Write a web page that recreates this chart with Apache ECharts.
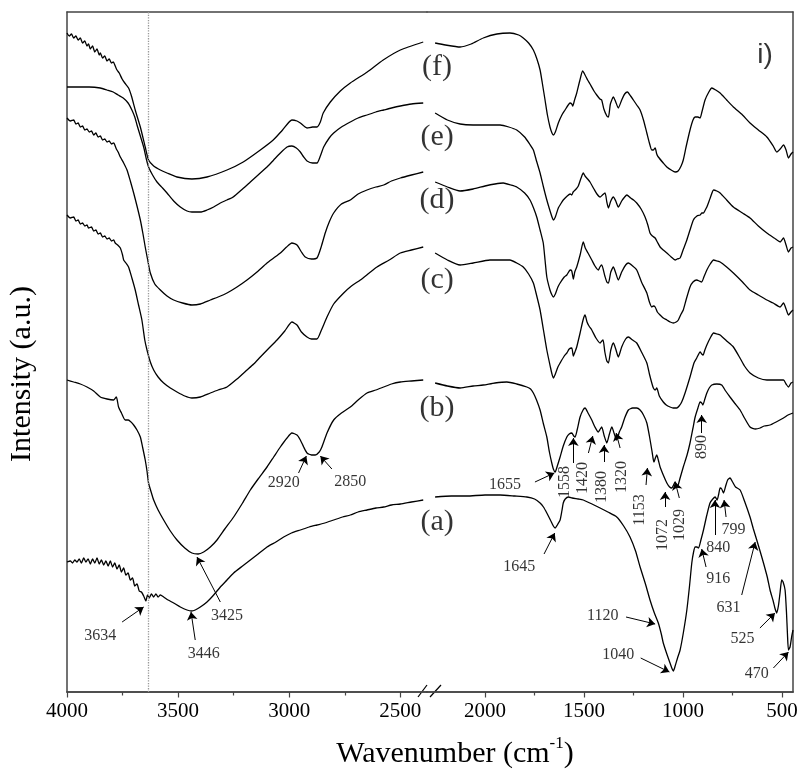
<!DOCTYPE html>
<html>
<head>
<meta charset="utf-8">
<script src="https://cdn.jsdelivr.net/npm/echarts@6/dist/echarts.min.js"></script>
<style>
  html, body { margin: 0; padding: 0; background: #fff; }
  #chart { width: 803px; height: 776px; }
</style>
</head>
<body>
<div id="chart"></div>
<script>
// FTIR spectra, [wavenumber cm-1, intensity a.u.]
const specA = [
  [4000,130],[3985,131],[3975,129],[3965,132],[3955,130],[3945,133],[3935,129],[3925,134],[3915,130],[3905,133],
  [3895,128],[3885,133],[3875,129],[3865,134],[3855,128],[3845,132],[3835,127],[3825,131],[3815,126],[3805,131],
  [3795,125],[3785,129],[3775,123],[3765,127],[3755,120],[3745,124],[3735,117],[3725,119],[3715,112],[3705,114],
  [3695,106],[3685,108],[3675,101],[3665,100],[3655,96],[3645,91],[3638,97],[3630,94],[3620,98],[3610,95],
  [3600,98],[3590,95],[3580,97],[3565,95],[3545,92],[3520,89],[3490,85],[3460,82],[3440,81],[3423,82],
  [3400,85],[3370,90],[3340,97],[3310,105],[3280,112],[3250,119],[3210,126],[3175,132],[3140,138],[3100,145],
  [3060,150],[3025,155],[2990,159],[2950,162],[2910,165],[2875,167],[2840,169],[2800,172],[2760,175],[2725,177],
  [2690,180],[2650,182],[2610,184],[2575,185],[2540,187],[2500,188],[2450,190],[2397,192],
  [2252,195],[2170,196],[2092,196],[2000,197],[1924,197],[1850,196],[1789,195],[1750,193],[1722,189],[1705,185],
  [1688,179],[1670,172],[1655,166],[1646,164],[1635,167],[1621,172],[1612,181],[1605,189],[1595,193],[1579,195],
  [1560,194],[1530,193],[1504,192],[1460,188],[1419,184],[1380,180],[1335,175],[1300,166],[1268,155],[1240,141],
  [1217,125],[1190,108],[1167,92],[1145,79],[1125,69],[1110,58],[1100,49],[1082,38],[1066,29],[1055,23],
  [1049,21],[1040,26],[1028,34],[1015,42],[998,60],[981,82],[968,105],[956,129],[947,140],[939,145],
  [930,145],[922,144],[910,152],[897,162],[880,177],[864,189],[850,193],[838,195],[828,192],[820,198],
  [813,204],[805,203],[796,199],[785,206],[775,212],[763,214],[750,210],[735,205],[712,202],[690,191],
  [662,175],[645,163],[628,152],[610,140],[594,129],[575,115],[561,102],[545,91],[535,83],[527,79],
  [518,87],[510,100],[502,112],[495,110],[485,102],[478,80],[473,58],[468,42],[460,45],[452,55],[445,62]
];
const specB = [
  [4000,312],[3970,310],[3940,308],[3910,305],[3880,301],[3850,295],[3820,293],[3790,292],[3778,295],[3768,285],
  [3755,279],[3738,272],[3724,272],[3712,270],[3700,267],[3685,262],[3670,255],[3660,245],[3648,232],[3640,221],
  [3633,209],[3620,199],[3610,192],[3590,182],[3565,172],[3535,161],[3505,152],[3470,144],[3438,139],[3410,138],
  [3385,140],[3355,145],[3325,152],[3290,163],[3250,175],[3210,189],[3175,202],[3140,213],[3100,225],[3070,235],
  [3040,245],[3010,254],[2988,259],[2965,257],[2950,252],[2935,245],[2920,239],[2900,237],[2883,237],[2865,240],
  [2853,245],[2830,259],[2800,272],[2765,279],[2725,285],[2690,292],[2650,299],[2610,302],[2575,305],[2540,308],
  [2500,310],[2450,311],[2397,312],
  [2252,309],[2190,306],[2126,304],[2060,306],[2009,307],[1950,309],[1890,310],[1840,308],[1789,305],[1770,303],
  [1756,299],[1740,292],[1722,282],[1705,268],[1688,255],[1675,240],[1663,229],[1655,223],[1646,220],[1635,226],
  [1621,235],[1605,246],[1587,255],[1575,258],[1562,259],[1552,256],[1545,255],[1535,262],[1520,275],[1505,282],
  [1495,284],[1480,279],[1461,272],[1445,265],[1428,260],[1418,263],[1411,265],[1398,256],[1385,249],[1372,258],
  [1360,265],[1347,258],[1335,252],[1322,260],[1310,265],[1295,274],[1276,282],[1255,284],[1234,284],[1217,282],
  [1200,277],[1183,269],[1170,256],[1158,242],[1150,232],[1147,230],[1140,234],[1133,237],[1125,232],[1116,225],
  [1100,217],[1082,209],[1068,205],[1057,204],[1048,207],[1040,210],[1034,207],[1029,205],[1015,214],[999,225],
  [980,237],[965,249],[950,264],[939,275],[925,284],[914,290],[906,289],[900,287],[890,293],[880,299],
  [868,304],[855,307],[830,308],[805,307],[785,301],[763,295],[740,289],[712,282],[690,274],[662,265],
  [635,263],[611,264],[590,266],[561,267],[530,270],[493,274],[470,277],[445,279]
];
const specC = [
  [4000,477],[3985,474],[3970,475],[3960,471],[3950,472],[3940,468],[3930,469],[3920,466],[3910,467],[3903,464],
  [3890,465],[3880,461],[3870,462],[3860,458],[3850,459],[3840,455],[3830,456],[3820,453],[3810,454],[3800,451],
  [3790,452],[3783,449],[3772,447],[3760,444],[3750,437],[3745,432],[3735,429],[3723,425],[3708,414],[3693,402],
  [3678,387],[3663,372],[3650,352],[3640,342],[3625,330],[3610,322],[3590,315],[3565,309],[3535,304],[3505,300],
  [3470,296],[3438,294],[3400,295],[3355,299],[3320,302],[3280,305],[3235,313],[3190,322],[3160,328],[3130,335],
  [3095,343],[3055,352],[3020,361],[2988,370],[2965,367],[2945,360],[2920,355],[2900,353],[2875,353],[2855,362],
  [2830,375],[2800,388],[2755,399],[2720,406],[2680,412],[2640,419],[2605,425],[2550,432],[2500,439],[2450,442],
  [2397,445],
  [2252,439],[2190,432],[2126,427],[2060,429],[1975,432],[1920,432],[1874,432],[1840,429],[1807,425],[1780,418],
  [1756,409],[1740,397],[1722,382],[1705,362],[1688,342],[1670,325],[1662,318],[1655,314],[1645,318],[1632,325],
  [1621,329],[1600,336],[1587,339],[1575,343],[1562,344],[1554,336],[1546,340],[1537,345],[1520,359],[1505,372],
  [1495,377],[1485,370],[1475,366],[1461,362],[1440,354],[1419,349],[1410,351],[1404,352],[1395,340],[1385,331],
  [1377,329],[1365,342],[1352,349],[1340,343],[1327,335],[1310,345],[1290,353],[1276,355],[1255,352],[1234,349],
  [1210,340],[1183,329],[1170,318],[1158,309],[1150,304],[1141,302],[1133,304],[1120,296],[1100,290],[1085,287],
  [1066,285],[1050,284],[1032,284],[1020,286],[1007,290],[990,299],[965,315],[945,329],[931,334],[914,340],
  [906,338],[899,337],[890,342],[880,347],[863,354],[846,359],[830,358],[813,357],[780,351],[746,345],
  [710,333],[690,326],[662,319],[620,314],[577,312],[530,312],[493,312],[480,308],[468,305],[455,309],[445,310]
];
const specD = [
  [4000,574],[3985,571],[3970,572],[3960,568],[3950,569],[3940,565],[3930,566],[3920,562],[3910,563],[3900,560],
  [3890,561],[3880,557],[3870,559],[3860,555],[3850,556],[3840,552],[3830,553],[3820,550],[3810,551],[3800,548],
  [3790,549],[3778,543],[3770,540],[3760,535],[3745,529],[3730,522],[3715,511],[3700,499],[3685,486],[3670,472],
  [3658,458],[3648,445],[3636,431],[3625,419],[3605,408],[3580,402],[3550,396],[3520,392],[3480,389],[3438,387],
  [3400,388],[3355,392],[3320,395],[3280,399],[3235,405],[3190,412],[3145,420],[3100,429],[3070,434],[3040,439],
  [3012,445],[2988,449],[2965,447],[2945,440],[2928,435],[2900,433],[2875,434],[2855,446],[2838,459],[2820,470],
  [2800,479],[2765,488],[2725,492],[2690,498],[2650,502],[2610,505],[2575,507],[2540,511],[2500,514],[2450,517],
  [2397,520],
  [2252,510],[2190,505],[2126,501],[2060,503],[2000,506],[1950,508],[1908,509],[1870,507],[1840,505],[1800,499],
  [1773,492],[1755,484],[1739,475],[1722,462],[1706,449],[1697,432],[1688,415],[1672,402],[1662,397],[1655,395],
  [1645,398],[1632,405],[1621,409],[1600,415],[1587,417],[1570,422],[1562,421],[1554,413],[1547,420],[1537,425],
  [1520,437],[1504,450],[1494,444],[1480,439],[1461,432],[1445,426],[1428,422],[1420,425],[1411,427],[1395,416],
  [1385,410],[1377,409],[1365,420],[1352,425],[1340,419],[1327,412],[1310,420],[1290,427],[1276,429],[1255,426],
  [1234,422],[1210,410],[1183,399],[1170,390],[1158,385],[1150,386],[1141,385],[1130,380],[1116,377],[1100,374],
  [1082,372],[1065,370],[1049,369],[1035,370],[1024,372],[1010,378],[999,382],[985,392],[965,405],[950,410],
  [931,412],[918,411],[906,410],[895,415],[880,422],[863,428],[846,432],[830,431],[813,430],[780,425],
  [746,419],[700,410],[662,402],[620,397],[577,392],[545,389],[510,385],[493,389],[480,383],[468,377],
  [455,380],[445,382]
];
const specE = [
  [4000,605],[3950,605],[3900,605],[3850,604],[3820,602],[3792,600],[3770,597],[3747,594],[3725,589],[3708,582],
  [3695,575],[3685,567],[3670,556],[3655,545],[3643,533],[3633,525],[3615,517],[3595,510],[3570,504],[3550,499],
  [3520,491],[3490,485],[3460,481],[3438,480],[3400,480],[3370,482],[3340,485],[3310,489],[3280,492],[3252,495],
  [3210,503],[3175,510],[3140,517],[3100,525],[3070,532],[3040,539],[3010,545],[2988,546],[2968,544],[2950,540],
  [2935,535],[2920,531],[2895,529],[2875,529],[2860,536],[2845,545],[2820,554],[2800,559],[2765,565],[2725,570],
  [2690,574],[2650,577],[2610,580],[2575,582],[2540,584],[2500,586],[2450,588],[2397,589],
  [2252,579],[2190,572],[2126,568],[2060,567],[2010,567],[1960,567],[1924,567],[1880,565],[1840,562],[1800,555],
  [1775,548],[1756,542],[1740,531],[1722,519],[1705,505],[1688,492],[1670,480],[1660,474],[1655,472],[1645,475],
  [1630,484],[1615,489],[1605,492],[1585,496],[1570,498],[1562,497],[1555,500],[1540,503],[1529,506],[1515,514],
  [1504,519],[1495,516],[1482,513],[1470,510],[1450,503],[1435,498],[1419,495],[1407,497],[1394,499],[1385,490],
  [1377,484],[1365,491],[1352,495],[1340,491],[1327,485],[1310,491],[1295,495],[1284,497],[1265,494],[1250,492],
  [1234,489],[1212,483],[1192,475],[1178,467],[1167,459],[1155,456],[1141,454],[1130,450],[1116,445],[1100,442],
  [1082,439],[1060,435],[1040,432],[1030,433],[1015,434],[1000,442],[981,452],[965,462],[948,472],[930,476],
  [914,477],[905,479],[897,479],[888,482],[880,485],[863,494],[846,502],[830,501],[813,499],[780,492],
  [746,485],[700,479],[662,474],[620,466],[577,459],[540,454],[510,450],[493,454],[480,447],[468,440],
  [455,444],[445,445]
];
const specF = [
  [4000,659],[3990,656],[3980,658],[3970,654],[3960,656],[3950,652],[3940,654],[3930,649],[3920,651],[3910,646],
  [3903,648],[3895,643],[3885,646],[3875,640],[3865,643],[3855,637],[3850,639],[3840,634],[3830,636],[3820,631],
  [3810,633],[3800,629],[3792,630],[3783,626],[3775,622],[3765,619],[3752,613],[3740,609],[3723,604],[3710,596],
  [3693,582],[3670,565],[3648,545],[3633,532],[3610,526],[3580,522],[3550,519],[3505,515],[3438,513],[3370,515],
  [3280,522],[3207,530],[3130,542],[3072,552],[3030,562],[2988,572],[2965,571],[2950,569],[2920,564],[2895,565],
  [2875,565],[2860,570],[2847,579],[2815,590],[2770,601],[2725,609],[2649,620],[2577,632],[2500,642],[2397,650],
  [2252,649],[2200,647],[2126,645],[2070,648],[2009,654],[1940,658],[1874,659],[1830,657],[1807,654],[1780,649],
  [1756,642],[1738,633],[1722,622],[1710,608],[1697,592],[1685,577],[1672,565],[1662,559],[1655,557],[1645,560],
  [1630,569],[1612,577],[1596,582],[1580,587],[1571,589],[1562,588],[1557,586],[1548,592],[1537,599],[1522,611],
  [1507,621],[1495,617],[1482,612],[1470,608],[1450,601],[1436,597],[1420,593],[1411,592],[1400,583],[1385,576],
  [1377,575],[1367,588],[1352,595],[1340,590],[1327,584],[1310,592],[1295,598],[1281,600],[1265,596],[1251,592],
  [1234,587],[1217,582],[1200,572],[1183,559],[1170,549],[1158,542],[1150,542],[1141,544],[1133,538],[1125,535],
  [1100,529],[1082,525],[1060,522],[1040,520],[1025,521],[1010,526],[999,532],[985,545],[965,562],[950,572],
  [939,575],[925,575],[914,574],[905,580],[889,592],[870,600],[855,604],[835,602],[813,599],[780,592],
  [746,585],[700,577],[662,569],[620,562],[577,555],[545,546],[527,540],[510,543],[493,547],[480,542],
  [468,534],[455,538],[445,540]
];

const spectra = [specA, specB, specC, specD, specE, specF];
const spectrumLabels = ['(a)', '(b)', '(c)', '(d)', '(e)', '(f)'];

const majorTicksLeft = [4000, 3500, 3000, 2500];
const minorTicksLeft = [3750, 3250, 2750];
const majorTicksRight = [2000, 1500, 1000, 500];
const minorTicksRight = [1750, 1250, 750];

// broken x axis: left part 4000..2380, right part 2293..445
const LEFT_MIN = 2380, LEFT_MAX = 4000;
const RIGHT_MIN = 445, RIGHT_MAX = 2293;
const REF_LINE = 3634;

// annotation layout: [text, textX, textY, rotate, tailX, tailY, headX, headY]
const notesLeft = [
  ['3634', 3850, 56, 0, 3752, 70, 3655, 85],
  ['3446', 3385, 38, 0, 3423, 52, 3442, 80],
  ['3425', 3280, 76, 0, 3310, 90, 3415, 135],
  ['2920', 3025, 209, 0, 2958, 219, 2923, 236],
  ['2850', 2725, 210, 0, 2808, 223, 2860, 236]
];
const notesRight = [
  ['1655', 1899, 207, 0, 1748, 210, 1650, 219],
  ['1558', 1596, 210, 90, 1554, 229, 1554, 254],
  ['1420', 1507, 214, 90, 1478, 239, 1456, 256],
  ['1380', 1411, 205, 90, 1399, 230, 1399, 247],
  ['1320', 1310, 215, 90, 1318, 244, 1338, 259],
  ['1153', 1217, 182, 90, 1187, 207, 1180, 224],
  ['1072', 1100, 157, 90, 1091, 185, 1091, 200],
  ['1029', 1019, 167, 90, 1019, 194, 1040, 210],
  ['890', 906, 245, 90, 906, 259, 906, 277],
  ['1645', 1827, 125, 0, 1702, 138, 1648, 159],
  ['840', 822, 144, 0, 839, 157, 839, 192],
  ['799', 746, 162, 0, 783, 175, 793, 192],
  ['916', 822, 113, 0, 884, 125, 906, 143],
  ['631', 771, 84, 0, 704, 97, 636, 150],
  ['1120', 1406, 76, 0, 1288, 75, 1141, 68],
  ['1040', 1327, 37, 0, 1214, 34, 1069, 20],
  ['525', 700, 53, 0, 612, 64, 536, 79],
  ['470', 628, 18, 0, 544, 24, 468, 40]
];
const labelPos = [[2242, 170], [2242, 284], [2242, 412], [2242, 492], [2242, 555], [2242, 625]];

const FONT = 'Liberation Serif';
const AXIS_COLOR = '#444';

function bottomAxis(grid, min, max, major) {
  return {
    type: 'value', gridIndex: grid, position: 'bottom', min: min, max: max, inverse: true,
    axisLine: { show: true, onZero: false, lineStyle: { color: AXIS_COLOR, width: 1.5 } },
    axisTick: { show: true, length: 5.5, customValues: major, lineStyle: { color: AXIS_COLOR, width: 1.2 } },
    axisLabel: {
      customValues: major, fontSize: 21, fontFamily: FONT, color: '#000', margin: 9,
      formatter: v => String(v)
    },
    splitLine: { show: false }
  };
}
function minorAxis(grid, min, max, minor) {
  return {
    type: 'value', gridIndex: grid, position: 'bottom', min: min, max: max, inverse: true,
    axisLine: { show: true, onZero: false, lineStyle: { color: AXIS_COLOR, width: 1.5 } },
    axisTick: { show: true, length: 3.5, customValues: minor, lineStyle: { color: AXIS_COLOR, width: 1.2 } },
    axisLabel: { show: false },
    splitLine: { show: false }
  };
}
function topAxis(grid, min, max) {
  return {
    type: 'value', gridIndex: grid, position: 'top', min: min, max: max, inverse: true,
    axisLine: { show: true, onZero: false, lineStyle: { color: AXIS_COLOR, width: 1.5 } },
    axisTick: { show: false }, axisLabel: { show: false }, splitLine: { show: false }
  };
}
function sideAxis(grid, pos) {
  return {
    type: 'value', gridIndex: grid, position: pos, min: 0, max: 680,
    axisLine: { show: true, onZero: false, lineStyle: { color: AXIS_COLOR, width: 1.5 } },
    axisTick: { show: false }, axisLabel: { show: false }, splitLine: { show: false }
  };
}

function noteSeries(notes, idx) {
  return {
    type: 'scatter', xAxisIndex: idx, yAxisIndex: idx, symbolSize: 1, silent: true, z: 5,
    itemStyle: { color: 'transparent' },
    label: { show: true, position: 'inside', color: '#000', fontSize: 16, fontFamily: FONT },
    data: notes.map(n => ({ value: [n[1], n[2]], label: { formatter: n[0], rotate: n[3] } })),
    markLine: {
      silent: true, animation: false,
      symbol: ['none', 'arrow'], symbolSize: 8,
      label: { show: false },
      lineStyle: { color: '#000', width: 1, type: 'solid' },
      data: notes.map(n => [{ coord: [n[4], n[5]] }, { coord: [n[6], n[7]] }])
    }
  };
}

const series = [];
spectra.forEach((s, i) => {
  const common = {
    type: 'line', showSymbol: false, smooth: 0.2, silent: true,
    lineStyle: { color: '#000', width: 1.3 }
  };
  const left = Object.assign({}, common, {
    xAxisIndex: 0, yAxisIndex: 0,
    data: s.filter(p => p[0] >= LEFT_MIN)
  });
  if (i === 0) {
    left.markLine = {
      silent: true, animation: false, symbol: 'none', label: { show: false },
      lineStyle: { color: '#999', width: 1.3, type: 'dotted' },
      data: [{ xAxis: REF_LINE }]
    };
  }
  series.push(left);
  series.push(Object.assign({}, common, {
    xAxisIndex: 1, yAxisIndex: 1,
    data: s.filter(p => p[0] <= RIGHT_MAX)
  }));
});
series.push(noteSeries(notesLeft, 0));
series.push(noteSeries(notesRight, 1));
series.push({
  type: 'scatter', xAxisIndex: 1, yAxisIndex: 1, symbolSize: 1, silent: true, z: 5,
  itemStyle: { color: 'transparent' },
  label: { show: true, position: 'inside', color: '#000', fontSize: 30, fontFamily: FONT },
  data: spectrumLabels.map((t, i) => ({ value: labelPos[i], label: { formatter: t } }))
    .concat([{ value: [586, 637], label: { formatter: 'i)', fontFamily: 'Liberation Sans', fontSize: 28 } }])
});

const chart = echarts.init(document.getElementById('chart'));
chart.setOption({
  animation: false,
  backgroundColor: '#fff',
  grid: [
    { left: 67, top: 12, width: 360, height: 680 },
    { left: 427, top: 12, width: 366, height: 680 }
  ],
  xAxis: [
    bottomAxis(0, LEFT_MIN, LEFT_MAX, majorTicksLeft),
    bottomAxis(1, RIGHT_MIN, RIGHT_MAX, majorTicksRight),
    minorAxis(0, LEFT_MIN, LEFT_MAX, minorTicksLeft),
    minorAxis(1, RIGHT_MIN, RIGHT_MAX, minorTicksRight),
    topAxis(0, LEFT_MIN, LEFT_MAX),
    topAxis(1, RIGHT_MIN, RIGHT_MAX)
  ],
  yAxis: [sideAxis(0, 'left'), sideAxis(1, 'right')],
  series: series,
  graphic: [
    {
      type: 'text', x: 455, y: 752,
      style: {
        text: '{t|Wavenumber (cm}{s|-1}{t|)}',
        align: 'center', verticalAlign: 'middle', fill: '#000',
        rich: {
          t: { fontSize: 30, fontFamily: FONT, lineHeight: 34, verticalAlign: 'bottom' },
          s: { fontSize: 17, fontFamily: FONT, lineHeight: 34, verticalAlign: 'top' }
        }
      }
    },
    {
      type: 'text', x: 22, y: 374, rotation: Math.PI / 2,
      style: { text: 'Intensity (a.u.)', fontSize: 30, fontFamily: FONT, fill: '#000', align: 'center', verticalAlign: 'middle' }
    },
    { type: 'line', shape: { x1: 418, y1: 697, x2: 427, y2: 685 }, style: { stroke: '#000', lineWidth: 1.2 } },
    { type: 'line', shape: { x1: 430, y1: 697, x2: 441, y2: 685 }, style: { stroke: '#000', lineWidth: 1.2 } }
  ]
});
</script>
</body>
</html>
